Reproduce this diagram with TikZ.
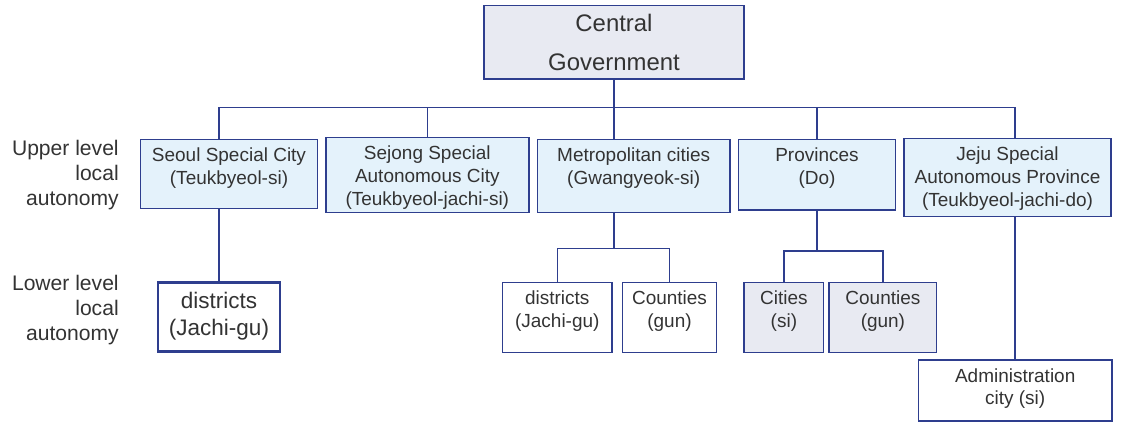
\documentclass[tikz,border=0pt]{standalone}
\usepackage{fontspec}
\setmainfont{Liberation Sans}
\usetikzlibrary{positioning}
\definecolor{navy}{HTML}{2E3E8E}
\definecolor{upfill}{HTML}{E4F2FB}
\definecolor{govfill}{HTML}{E8EAF2}
\definecolor{ink}{HTML}{333333}
\tikzset{
  govbox/.style={draw=navy, fill=govfill, line width=1.1pt, align=center, text=ink, minimum width=6.5cm, minimum height=1.83cm, font=\fontsize{17}{27.6}\selectfont},
  upper/.style={draw=navy, fill=upfill, line width=1.1pt},
  lower/.style={draw=navy, fill=white, line width=1.1pt, minimum height=1.76cm},
  lowergrey/.style={lower, fill=govfill},
  txt/.style={anchor=north, align=center, inner sep=0pt, yshift=-0.22cm, text=ink, font=\fontsize{13.5}{16.3}\selectfont},
  side/.style={align=right, inner sep=0pt, text=ink, font=\fontsize{15}{17.5}\selectfont},
  link/.style={draw=navy, line width=1.1pt}
}

\begin{document}
\begin{tikzpicture}[x=0.025cm, y=-0.025cm]
\useasboundingbox (0,0) rectangle (1125,422);

% levels
\node[side, anchor=east] (uplevel) at (119,175) {Upper level\\local\\autonomy};
\node[side, anchor=east] (lowlevel) at (119,310) {Lower level\\local\\autonomy};

\node[govbox] (gov) at (614,42.3) {Central\\Government};

% upper level
\node[upper, minimum width=4.415cm, minimum height=1.725cm, label={[txt]north:Seoul Special City\\(Teukbyeol-si)}] (seoul) at (229,173.8) {};
\node[upper, minimum width=5.07cm, minimum height=1.875cm, label={[txt]north:Sejong Special\\Autonomous City\\(Teukbyeol-jachi-si)}] (sejong) at (427.3,174.8) {};
\node[upper, minimum width=4.82cm, minimum height=1.825cm, label={[txt]north:Metropolitan cities\\(Gwangyeok-si)}] (met) at (633.7,175.8) {};
\node[upper, minimum width=3.915cm, minimum height=1.77cm, label={[txt]north:Provinces\\(Do)}] (prov) at (817,174.7) {};
\node[upper, minimum width=5.175cm, minimum height=1.96cm, label={[txt]north:Jeju Special\\Autonomous Province\\(Teukbyeol-jachi-do)}] (jeju) at (1007.5,177.5) {};

% lower level
\node[lower, line width=2pt, minimum width=3.05cm, minimum height=1.72cm, label={[txt, yshift=-0.05cm, font=\fontsize{16}{19.3}\selectfont]north:districts\\(Jachi-gu)}] (sdist) at (219,316.7) {};
\node[lower, minimum width=2.73cm, label={[txt]north:districts\\(Jachi-gu)}] (mdist) at (557.3,317.5) {};
\node[lower, minimum width=2.36cm, label={[txt]north:Counties\\(gun)}] (mcnty) at (669.5,317.5) {};
\node[lowergrey, minimum width=1.99cm, label={[txt]north:Cities\\(si)}] (pcity) at (783.9,317.5) {};
\node[lowergrey, minimum width=2.69cm, label={[txt]north:Counties\\(gun)}] (pcnty) at (882.9,317.5) {};
\node[lower, minimum width=4.825cm, minimum height=1.525cm, label={[txt]north:Administration\\city (si)}] (admin) at (1015.2,390.5) {};

% connectors
\coordinate (bus) at (614,107.3);
\coordinate (mbus) at (614,248.3);
\coordinate (pbus) at (817,251);
\draw[link] (gov.south) -- (bus);
\draw[link] (sdist.north |- seoul.north) |- (bus) -| (admin.north |- jeju.north);
\draw[link] (sejong.north) -- (sejong.north |- bus);
\draw[link] (bus) -- (bus |- met.north);
\draw[link] (prov.north) -- (prov.north |- bus);
\draw[link] (seoul.south -| sdist.north) -- (sdist.north);
\draw[link] (met.south -| mbus) -- (mbus);
\draw[link] (mdist.north) |- (mbus) -| (mcnty.north);
\draw[link] (prov.south) -- (pbus);
\draw[link] (pcity.north) |- (pbus) -| (pcnty.north);
\draw[link] (jeju.south -| admin.north) -- (admin.north);
\end{tikzpicture}
\end{document}
